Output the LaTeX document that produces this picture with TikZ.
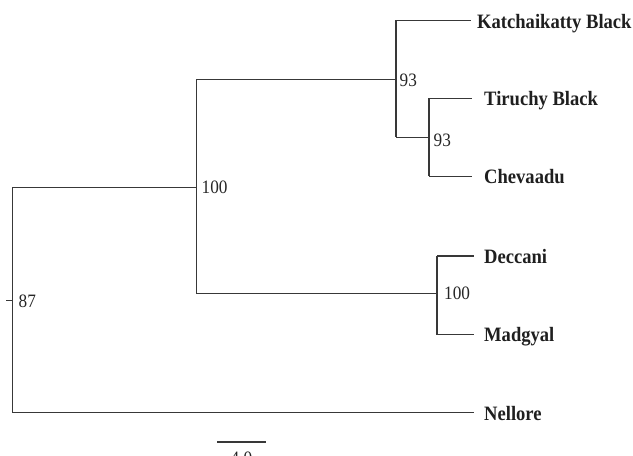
\documentclass[tikz,border=0pt]{standalone}
\usepackage{fontspec}
\setmainfont{Liberation Serif}
\begin{document}
\begin{tikzpicture}[x=1bp,y=-1bp,
  branch/.style={draw=black!78,line width=1.3bp},
  taxon/.style={anchor=base west,inner sep=0pt,xscale=0.91,font=\fontsize{20.5}{22}\selectfont\bfseries,text=black!88},
  boot/.style={anchor=base west,inner sep=0pt,xscale=0.91,font=\fontsize{19}{21}\selectfont,text=black!85}]
\useasboundingbox (0,0) rectangle (633,456);
\clip (0,0) rectangle (633,456);
% internal nodes
\coordinate (root) at (12.5,300.5);
\coordinate (rtop) at (12.5,187.5);
\coordinate (rbot) at (12.5,412.5);
\coordinate (n1) at (196.5,187.5);
\coordinate (n1t) at (196.5,79.5);
\coordinate (n1b) at (196.5,293.5);
\coordinate (n2) at (396,79.5);
\coordinate (n2t) at (396,20.5);
\coordinate (n2b) at (396,137.5);
\coordinate (n3) at (429,137.5);
\coordinate (n3t) at (429,98.5);
\coordinate (n3b) at (429,176.5);
\coordinate (n4) at (437,293.5);
\coordinate (n4t) at (437,256);
\coordinate (n4b) at (437,334.5);
% leaf ends
\coordinate (kE) at (471,20.5);
\coordinate (tE) at (472,98.5);
\coordinate (cE) at (472,176.5);
\coordinate (dE) at (474,256);
\coordinate (mE) at (474,334.5);
\coordinate (nE) at (473.5,412.5);
\coordinate (stub) at (6,300.5);
% tree
\draw[branch] (stub) -- (root);
\draw[branch] (rtop) -- (rbot);
\draw[branch] (rtop) -- (n1);
\draw[branch] (rbot) -- (nE);
\draw[branch] (n1t) -- (n1b);
\draw[branch] (n1t) -- (n2);
\draw[branch] (n1b) -- (n4);
\draw[branch] (n2t) -- (n2b);
\draw[branch] (n2t) -- (kE);
\draw[branch] (n2b) -- (n3);
\draw[branch] (n3t) -- (n3b);
\draw[branch] (n3t) -- (tE);
\draw[branch] (n3b) -- (cE);
\draw[branch] (n4t) -- (n4b);
\draw[branch] (n4t) -- (dE);
\draw[branch] (n4b) -- (mE);
% taxa labels
\node[taxon] (kat) at (477,28.5) {Katchaikatty Black};
\node[taxon] (tir) at (484,106) {Tiruchy Black};
\node[taxon] (che) at (484,184) {Chevaadu};
\node[taxon] (dec) at (484,263.5) {Deccani};
\node[taxon] (mad) at (484,341) {Madgyal};
\node[taxon] (nel) at (484,420) {Nellore};
% bootstrap values
\node[boot] (b87) at (18.5,307.5) {87};
\node[boot] (b100a) at (201.5,193.5) {100};
\node[boot] (b93a) at (399.5,86.5) {93};
\node[boot] (b93b) at (433.5,146.5) {93};
\node[boot] (b100b) at (444,300) {100};
% scale bar
\coordinate (sL) at (217,442);
\coordinate (sR) at (266,442);
\draw[branch] (sL) -- (sR);
\node[anchor=base,inner sep=0pt,xscale=0.91,font=\fontsize{19}{21}\selectfont,text=black!85] (scale) at (241.5,464) {4.0};
\end{tikzpicture}
\end{document}
